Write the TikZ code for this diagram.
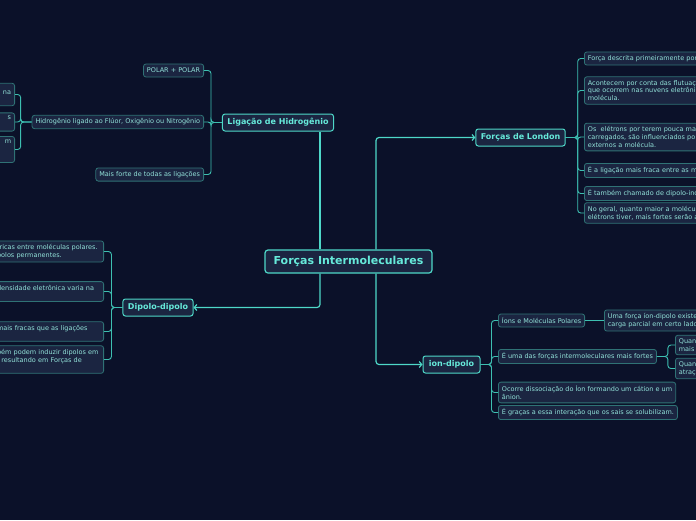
\documentclass[tikz,border=0pt]{standalone}
\usepackage{fontspec}
\setmainfont{DejaVu Sans}
\usetikzlibrary{arrows.meta, positioning}

\definecolor{bgcol}{HTML}{0B1129}
\definecolor{nodefill}{HTML}{1B2541}
\definecolor{topicline}{HTML}{4ED8C8}
\definecolor{topictext}{HTML}{66EADA}
\definecolor{leafline}{HTML}{2F7275}
\definecolor{leaftext}{HTML}{92E2D9}
\definecolor{connline}{HTML}{4ED8C8}
\definecolor{branchline}{HTML}{3DBFB1}

\tikzset{
  central/.style={draw=topicline, fill=nodefill, rounded corners=3pt, line width=1.2pt,
    text=topictext, font=\bfseries\fontsize{11}{13}\selectfont,
    minimum height=23pt, minimum width=167pt, inner xsep=6pt},
  topic/.style={draw=topicline, fill=nodefill, rounded corners=2.5pt, line width=1pt,
    text=topictext, font=\bfseries\fontsize{8}{10}\selectfont,
    minimum height=17pt, inner xsep=5pt},
  leaf/.style={draw=leafline, fill=nodefill, rounded corners=2.5pt, line width=0.8pt,
    text=leaftext, font=\fontsize{6.5}{7.8}\selectfont, align=left,
    minimum height=13pt, inner xsep=3.5pt, inner ysep=3.4pt},
  cutleaf/.style={leaf, text width=150pt},
  conn/.style={draw=connline, line width=1.2pt, rounded corners=3pt},
  branch/.style={draw=branchline, line width=0.9pt, rounded corners=3pt},
}

\begin{document}
\begin{tikzpicture}[x=1pt, y=-1pt, >={Straight Barb[length=2.5pt, width=6pt]}]
\fill[bgcol] (0,0) rectangle (696,520);
\useasboundingbox (0,0) rectangle (696,520);
\clip (0,0) rectangle (696,520);

% main topics
\node[central] (forces) at (348.5,261.5) {Forças Intermoleculares};
\node[topic, minimum width=110pt] (hydrogen) at (278,122.5) {Ligação de Hidrogênio};
\node[topic, minimum width=89pt] (london) at (520.5,137.5) {Forças de London};
\node[topic, minimum width=70pt] (dipole) at (158,307.5) {Dipolo-dipolo};
\node[topic, minimum width=57pt] (iondip) at (451.5,364.5) {ion-dipolo};

\coordinate (topL) at ([xshift=-28.5pt]forces.north);
\coordinate (topR) at ([xshift=27.5pt]forces.north);
\coordinate (botL) at ([xshift=-28.5pt]forces.south);
\coordinate (botR) at ([xshift=27.5pt]forces.south);

\draw[conn] (topL) -- (topL |- hydrogen.south);
\draw[conn, ->] (topR) |- (london.west);
\draw[conn, ->] (botL) |- (dipole.east);
\draw[conn, ->] (botR) |- (iondip.west);

% Ligacao de Hidrogenio
\node[leaf, anchor=east] (polar) at (204,70.5) {POLAR + POLAR};
\node[leaf, anchor=east] (bonded) at (204,122) {Hidrogênio ligado ao Flúor, Oxigênio ou Nitrogênio};
\node[leaf, anchor=east] (strongest) at (204,174.5) {Mais forte de todas as ligações};
\foreach \leaf in {polar,bonded,strongest}
  \draw[branch] (hydrogen.west) -- ++(-11,0) |- (\leaf.east);

\node[leaf, anchor=east, align=right, text width=40pt] (bondA) at (15,94.5) {~\\na\\~};
\node[leaf, anchor=east, align=right, text width=40pt] (bondB) at (15,122) {s\\~};
\node[leaf, anchor=east, align=right, text width=40pt] (bondC) at (15,149.5) {m\\~\\~};
\foreach \leaf in {bondA,bondB,bondC}
  \draw[branch] (bonded.west) -- ++(-11,0) |- (\leaf.east);

% Dipolo-dipolo
\node[leaf, anchor=east, text width=103pt] (dipA) at (104,251.5) {tricas entre moléculas polares.\\polos permanentes.};
\node[leaf, anchor=east, text width=103pt] (dipB) at (104,291.5) {densidade eletrônica varia na\\~};
\node[leaf, anchor=east, text width=103pt] (dipC) at (104,331.5) {mais fracas que as ligações\\~};
\node[leaf, anchor=east, text width=103pt] (dipD) at (104,359.5) {bém podem induzir dipolos em\\, resultando em Forças de\\~};
\foreach \leaf in {dipA,dipB,dipC,dipD}
  \draw[branch] (dipole.west) -- ++(-11,0) |- (\leaf.east);

% Forcas de London
\node[cutleaf, anchor=west] (lonA) at (584,58.5) {Força descrita primeiramente por};
\node[cutleaf, anchor=west] (lonB) at (584,90.5) {Acontecem por conta das flutuaç\\que ocorrem nas nuvens eletrôni\\molécula.};
\node[cutleaf, anchor=west] (lonC) at (584,137) {Os~ elétrons por terem pouca ma\\carregados, são influenciados po\\externos a molécula.};
\node[cutleaf, anchor=west] (lonD) at (584,170.5) {É a ligação mais fraca entre as m};
\node[cutleaf, anchor=west] (lonE) at (584,193.5) {É também chamado de dipolo-ind};
\node[cutleaf, anchor=west] (lonF) at (584,213) {No geral, quanto maior a molécul\\elétrons tiver, mais fortes serão a};
\foreach \leaf in {lonA,lonB,lonC,lonD,lonE,lonF}
  \draw[branch] (london.east) -- ++(12,0) |- (\leaf.west);

% ion-dipolo
\node[leaf, anchor=west] (ionA) at (498,320.5) {Íons e Moléculas Polares};
\node[leaf, anchor=west] (ionB) at (498,356.5) {É uma das forças intermoleculares mais fortes};
\node[leaf, anchor=west] (ionC) at (498,392.5) {Ocorre dissociação do Íon formando um cátion e um\\ânion.};
\node[leaf, anchor=west] (ionD) at (498,412.5) {É graças a essa interação que os sais se solubilizam.};
\foreach \leaf in {ionA,ionB,ionC,ionD}
  \draw[branch] (iondip.east) -- ++(11,0) |- (\leaf.west);

\node[cutleaf, anchor=west] (ionAa) at (604,320.5) {Uma força íon-dipolo existe\\carga parcial em certo lado};
\draw[branch] (ionA.east) -- (ionAa.west);

\node[cutleaf, anchor=west] (ionBa) at (675,345) {Quan\\mais};
\node[cutleaf, anchor=west] (ionBb) at (675,368.5) {Quan\\atraç};
\foreach \leaf in {ionBa,ionBb}
  \draw[branch] (ionB.east) -- ++(11,0) |- (\leaf.west);
\end{tikzpicture}
\end{document}
